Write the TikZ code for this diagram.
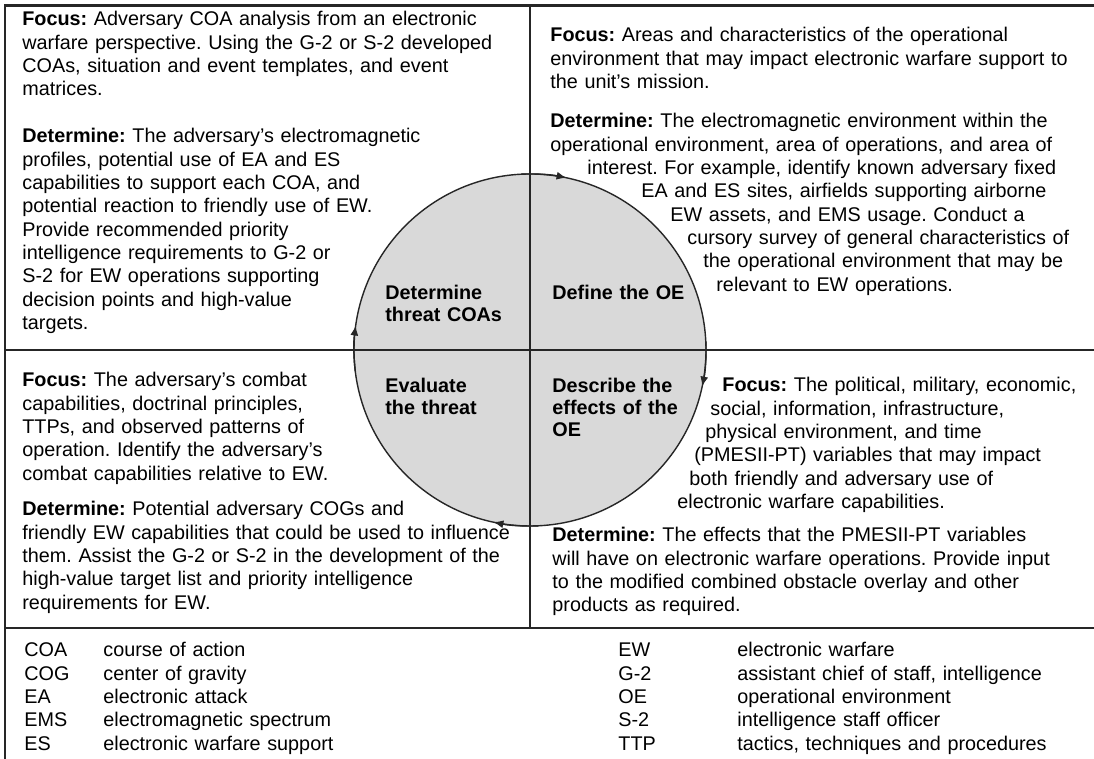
\documentclass[tikz,border=0pt]{standalone}
\usepackage{fontspec}
\setmainfont{Liberation Sans}
\usetikzlibrary{arrows.meta}

\definecolor{stagegray}{RGB}{217,217,217}
\newcommand{\bodysize}{\fontsize{9.9}{11.65}\selectfont\frenchspacing}
\newcommand{\stagesize}{\fontsize{9.9}{10.8}\selectfont\bfseries}

\tikzset{
	para/.style={anchor=base west, text width=270pt, align=left, inner sep=0pt, font=\bodysize},
	stage/.style={anchor=base west, text width=70pt, align=left, inner sep=0pt, font=\stagesize},
	rule/.style={line width=1pt, black!85},
	cycle arrow/.style={line width=0.7pt, black!85, -{Latex[length=5pt,width=4pt]}},
}

\begin{document}
\begin{tikzpicture}[x=0.5pt, y=0.5pt]
	\useasboundingbox[fill=white] (0,0) rectangle (1094,759);

	% the cycle
	\coordinate (c) at (530,409);
	\fill[stagegray] (c) circle[radius=176];

	% frame and quadrants
	\draw [line width=1.5pt, black!85] (4,753) -- (1094,753);
	\draw [rule] (5,753) -- (5,0);
	\draw [rule] (530,753) -- (530,131);
	\draw [rule] (5,409) -- (1094,409);
	\draw [rule] (5,131) -- (1094,131);

	\draw [line width=0.7pt, black!85] (c) circle[radius=176];
	\foreach \a in {78,-12,-102,172}
		\draw [cycle arrow] (c) ++(\a+15:176) arc[start angle=\a+15, end angle=\a, radius=176];

	\node [stage] (threat) at (385,459) {Determine\\threat COAs};
	\node [stage] (define) at (552,459) {Define the OE};
	\node [stage] (evaluate) at (385,366) {Evaluate\\the threat};
	\node [stage] (describe) at (552,366) {Describe the\\effects of the\\OE};

	% top left
	\node [para] (tlFocus) at (22,733) {\textbf{Focus:} Adversary COA analysis from an electronic\\
		warfare perspective. Using the G-2 or S-2 developed\\
		COAs, situation and event templates, and event\\
		matrices.};
	\node [para] (tlDetermine) at (22,616) {\textbf{Determine:} The adversary's electromagnetic\\
		profiles, potential use of EA and ES\\
		capabilities to support each COA, and\\
		potential reaction to friendly use of EW.\\
		Provide recommended priority\\
		intelligence requirements to G-2 or\\
		S-2 for EW operations supporting\\
		decision points and high-value\\
		targets.};

	% top right
	\node [para] (trFocus) at (550,717) {\textbf{Focus:} Areas and characteristics of the operational\\
		environment that may impact electronic warfare support to\\
		the unit's mission.};
	\node [para] (trDetermine) at (550,631) {\textbf{Determine:} The electromagnetic environment within the\\
		operational environment, area of operations, and area of\\
		\hspace*{18.5pt}interest. For example, identify known adversary fixed\\
		\hspace*{45.5pt}EA and ES sites, airfields supporting airborne\\
		\hspace*{60pt}EW assets, and EMS usage. Conduct a\\
		\hspace*{68.5pt}cursory survey of general characteristics of\\
		\hspace*{76.5pt}the operational environment that may be\\
		\hspace*{83pt}relevant to EW operations.};

	% bottom left
	\node [para] (blFocus) at (22,372) {\textbf{Focus:} The adversary's combat\\
		capabilities, doctrinal principles,\\
		TTPs, and observed patterns of\\
		operation. Identify the adversary's\\
		combat capabilities relative to EW.};
	\node [para] (blDetermine) at (22,243) {\textbf{Determine:} Potential adversary COGs and\\
		friendly EW capabilities that could be used to influence\\
		them. Assist the G-2 or S-2 in the development of the\\
		high-value target list and priority intelligence\\
		requirements for EW.};

	% bottom right
	\node [para] (brFocus) at (677,367) {\hspace*{22.5pt}\textbf{Focus:} The political, military, economic,\\
		\hspace*{16.5pt}social, information, infrastructure,\\
		\hspace*{14pt}physical environment, and time\\
		\hspace*{8.5pt}(PMESII-PT) variables that may impact\\
		\hspace*{6pt}both friendly and adversary use of\\
		electronic warfare capabilities.};
	\node [para] (brDetermine) at (552,217) {\textbf{Determine:} The effects that the PMESII-PT variables\\
		will have on electronic warfare operations. Provide input\\
		to the modified combined obstacle overlay and other\\
		products as required.};

	% acronyms
	\node [para] (abbrA) at (24,102) {COA\\COG\\EA\\EMS\\ES};
	\node [para] (termA) at (103,102) {course of action\\center of gravity\\electronic attack\\electromagnetic spectrum\\electronic warfare support};
	\node [para] (abbrB) at (618,102) {EW\\G-2\\OE\\S-2\\TTP};
	\node [para] (termB) at (737,102) {electronic warfare\\assistant chief of staff, intelligence\\operational environment\\intelligence staff officer\\tactics, techniques and procedures};
\end{tikzpicture}
\end{document}
